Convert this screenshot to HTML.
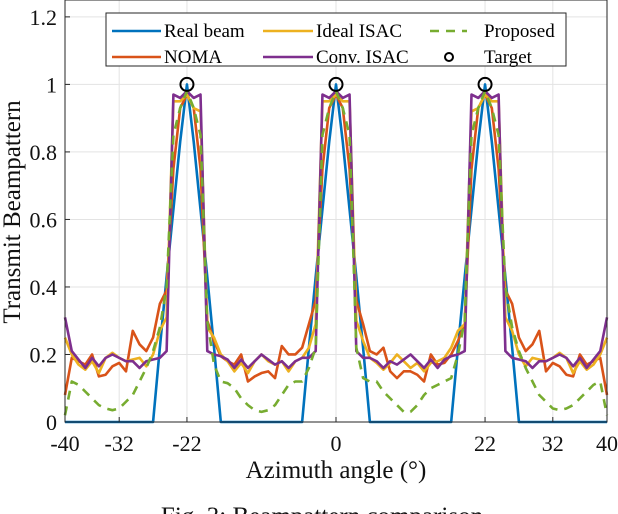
<!DOCTYPE html>
<html><head><meta charset="utf-8"><style>
body{margin:0;background:#fff;}
svg{display:block;font-family:"Liberation Serif",serif;}
</style></head><body>
<svg id="chart" width="618" height="514" viewBox="0 0 618 514">
<g id="grid"></g>
<g id="series"></g>
<rect x="65" y="0" width="542" height="422" fill="none" stroke="#262626" stroke-width="1"/>
<g id="ticks"></g>
<text x="20" y="212" font-size="25" text-anchor="middle" transform="rotate(-90 20 212)" fill="#111">Transmit Beampattern</text>
<text x="336" y="478" font-size="25" text-anchor="middle" fill="#111">Azimuth angle (°)</text>
<text x="322" y="524" font-size="25" text-anchor="middle" fill="#111">Fig. 3: Beampattern comparison</text>
<g>
<rect x="106" y="13" width="460" height="53" fill="#fff" stroke="#262626" stroke-width="1"/>
<g><line x1="112" y1="31" x2="161" y2="31" stroke="#0072BD" stroke-width="2.5"/><text x="164" y="37" font-size="19">Real beam</text></g>
<g><line x1="112" y1="57" x2="161" y2="57" stroke="#D95319" stroke-width="2.5"/><text x="164" y="63" font-size="19">NOMA</text></g>
<g><line x1="263" y1="31" x2="313" y2="31" stroke="#EDB120" stroke-width="2.5"/><text x="316" y="37" font-size="19">Ideal ISAC</text></g>
<g><line x1="263" y1="57" x2="313" y2="57" stroke="#7E2F8E" stroke-width="2.5"/><text x="316" y="63" font-size="19">Conv. ISAC</text></g>
<g><line x1="430" y1="31" x2="467" y2="31" stroke="#77AC30" stroke-width="2.5" stroke-dasharray="9,7"/><text x="484" y="37" font-size="19">Proposed</text></g>
<g><circle cx="449" cy="57" r="4" fill="none" stroke="#000" stroke-width="2"/><text x="484" y="63" font-size="19">Target</text></g>
</g>
</svg>
<script>
const angles = [];
for (let a = -40; a <= 40; a++) angles.push(a);
const xTicks = [-40, -32, -22, 0, 22, 32, 40];
const yTicks = [0, 0.2, 0.4, 0.6, 0.8, 1, 1.2];
const yTickLabels = ["0", "0.2", "0.4", "0.6", "0.8", "1", "1.2"];
const targets = [-22, 0, 22];
const realBeam = [0,0,0,0,0,0,0,0,0,0,0,0,0,0, 0.22,0.43,0.63,0.83,1,0.83,0.63,0.43,0.22, 0,0,0,0,0,0,0,0,0,0,0,0,0, 0.22,0.43,0.63,0.83,1,0.83,0.63,0.43,0.22, 0,0,0,0,0,0,0,0,0,0,0,0,0, 0.22,0.43,0.63,0.83,1,0.83,0.63,0.43,0.22, 0,0,0,0,0,0,0,0,0,0,0,0,0,0];
const noma = [0.08,0.19,0.18,0.17,0.20,0.135,0.14,0.165,0.175,0.15,0.27,0.23,0.21,0.25,0.35,0.39, 0.75,0.93,0.97,0.93,0.75, 0.30,0.24,0.195,0.18,0.17,0.20,0.12,0.135,0.145,0.15,0.13,0.225,0.20,0.20,0.22,0.29,0.36, 0.75,0.93,0.97,0.93,0.75, 0.36,0.29,0.21,0.20,0.22,0.15,0.13,0.15,0.15,0.14,0.12,0.20,0.17,0.175,0.20,0.24,0.29, 0.75,0.93,0.97,0.93,0.75, 0.39,0.35,0.25,0.21,0.23,0.27,0.15,0.175,0.165,0.14,0.135,0.20,0.17,0.18,0.19,0.08];
const idealIsac = [0.25,0.20,0.17,0.155,0.18,0.145,0.19,0.205,0.19,0.18,0.185,0.19,0.165,0.20,0.27,0.31, 0.95,0.95,0.97,0.93,0.92, 0.28,0.25,0.20,0.18,0.15,0.175,0.145,0.18,0.20,0.18,0.17,0.18,0.15,0.18,0.19,0.22,0.29, 0.95,0.95,0.97,0.95,0.95, 0.30,0.24,0.19,0.175,0.155,0.175,0.20,0.18,0.16,0.175,0.15,0.175,0.18,0.19,0.22,0.27,0.29, 0.92,0.93,0.97,0.95,0.95, 0.31,0.27,0.20,0.165,0.19,0.185,0.18,0.19,0.205,0.19,0.145,0.18,0.155,0.17,0.20,0.25];
const convIsac = [0.31,0.21,0.185,0.16,0.19,0.165,0.19,0.20,0.19,0.18,0.18,0.16,0.18,0.185,0.19,0.21, 0.97,0.96,0.98,0.96,0.97, 0.21,0.20,0.195,0.185,0.16,0.185,0.16,0.18,0.20,0.185,0.17,0.18,0.16,0.18,0.19,0.19,0.21, 0.97,0.96,0.98,0.96,0.97, 0.21,0.19,0.19,0.18,0.16,0.18,0.17,0.185,0.20,0.18,0.16,0.185,0.16,0.185,0.195,0.20,0.21, 0.97,0.96,0.98,0.96,0.97, 0.21,0.19,0.185,0.18,0.16,0.18,0.18,0.19,0.20,0.19,0.165,0.19,0.16,0.185,0.21,0.31];
const proposed = [0.02,0.12,0.11,0.09,0.07,0.05,0.04,0.035,0.04,0.06,0.08,0.12,0.16,0.21,0.28,0.40, 0.85,0.93,0.98,0.93,0.85, 0.30,0.17,0.12,0.115,0.10,0.07,0.05,0.035,0.03,0.035,0.05,0.08,0.11,0.12,0.12,0.16,0.22, 0.85,0.93,0.98,0.93,0.85, 0.22,0.13,0.12,0.12,0.09,0.07,0.05,0.03,0.03,0.05,0.08,0.10,0.11,0.12,0.13,0.20,0.30, 0.85,0.93,0.98,0.93,0.85, 0.40,0.28,0.21,0.16,0.12,0.08,0.06,0.04,0.035,0.04,0.05,0.07,0.09,0.11,0.12,0.02];

const NS = "http://www.w3.org/2000/svg";
const X0 = 65, X1 = 607, Y0 = 422, YTOP = 0, XMIN = -40, XMAX = 40, YMAX = 1.25;
function xs(v){ return X0 + (v - XMIN) / (XMAX - XMIN) * (X1 - X0); }
function ys(v){ return Y0 - v / YMAX * (Y0 - YTOP); }
function mk(tag, attrs){ const e = document.createElementNS(NS, tag); for (const k in attrs) e.setAttribute(k, attrs[k]); return e; }

const grid = document.getElementById('grid'), ticks = document.getElementById('ticks'), series = document.getElementById('series');
xTicks.forEach(t => {
  const g = mk('line', {x1: xs(t), x2: xs(t), y1: YTOP, y2: Y0, stroke: '#e3e3e3', 'stroke-width': 1});
  
  
  grid.appendChild(g);
  const tk = mk('line', {x1: xs(t), x2: xs(t), y1: Y0, y2: Y0 - 5, stroke: '#262626', 'stroke-width': 1});
  
  
  ticks.appendChild(tk);
  const lb = mk('text', {x: xs(t), y: Y0 + 29, 'font-size': 22, 'text-anchor': 'middle', fill: '#111'});
  lb.textContent = String(t);
  
  
  ticks.appendChild(lb);
});
yTicks.forEach((t, i) => {
  const g = mk('line', {x1: X0, x2: X1, y1: ys(t), y2: ys(t), stroke: '#e3e3e3', 'stroke-width': 1});
  
  
  grid.appendChild(g);
  const tk = mk('line', {x1: X0, x2: X0 + 5, y1: ys(t), y2: ys(t), stroke: '#262626', 'stroke-width': 1});
  
  
  ticks.appendChild(tk);
  const lb = mk('text', {x: X0 - 8, y: ys(t) + 8, 'font-size': 22, 'text-anchor': 'end', fill: '#111'});
  lb.textContent = yTickLabels[i];
  
  
  ticks.appendChild(lb);
});
function drawLine(vals, color, name, dash){
  const d = vals.map((v, i) => (i ? 'L' : 'M') + xs(angles[i]).toFixed(2) + ' ' + ys(v).toFixed(2)).join(' ');
  const p = mk('path', {d: d, fill: 'none', stroke: color, 'stroke-width': 2.6, 'stroke-linejoin': 'round'});
  if (dash) p.setAttribute('stroke-dasharray', dash);
  
  
  series.appendChild(p);
}
drawLine(realBeam, '#0072BD', 'real-beam-line');
drawLine(noma, '#D95319', 'noma-line');
drawLine(idealIsac, '#EDB120', 'ideal-isac-line');
drawLine(convIsac, '#7E2F8E', 'conv-isac-line');
drawLine(proposed, '#77AC30', 'proposed-line', '9,7');
targets.forEach(t => {
  const c = mk('circle', {cx: xs(t), cy: ys(1), r: 6.5, fill: 'none', stroke: '#000', 'stroke-width': 2});
  
  
  series.appendChild(c);
});
</script>
</body></html>
